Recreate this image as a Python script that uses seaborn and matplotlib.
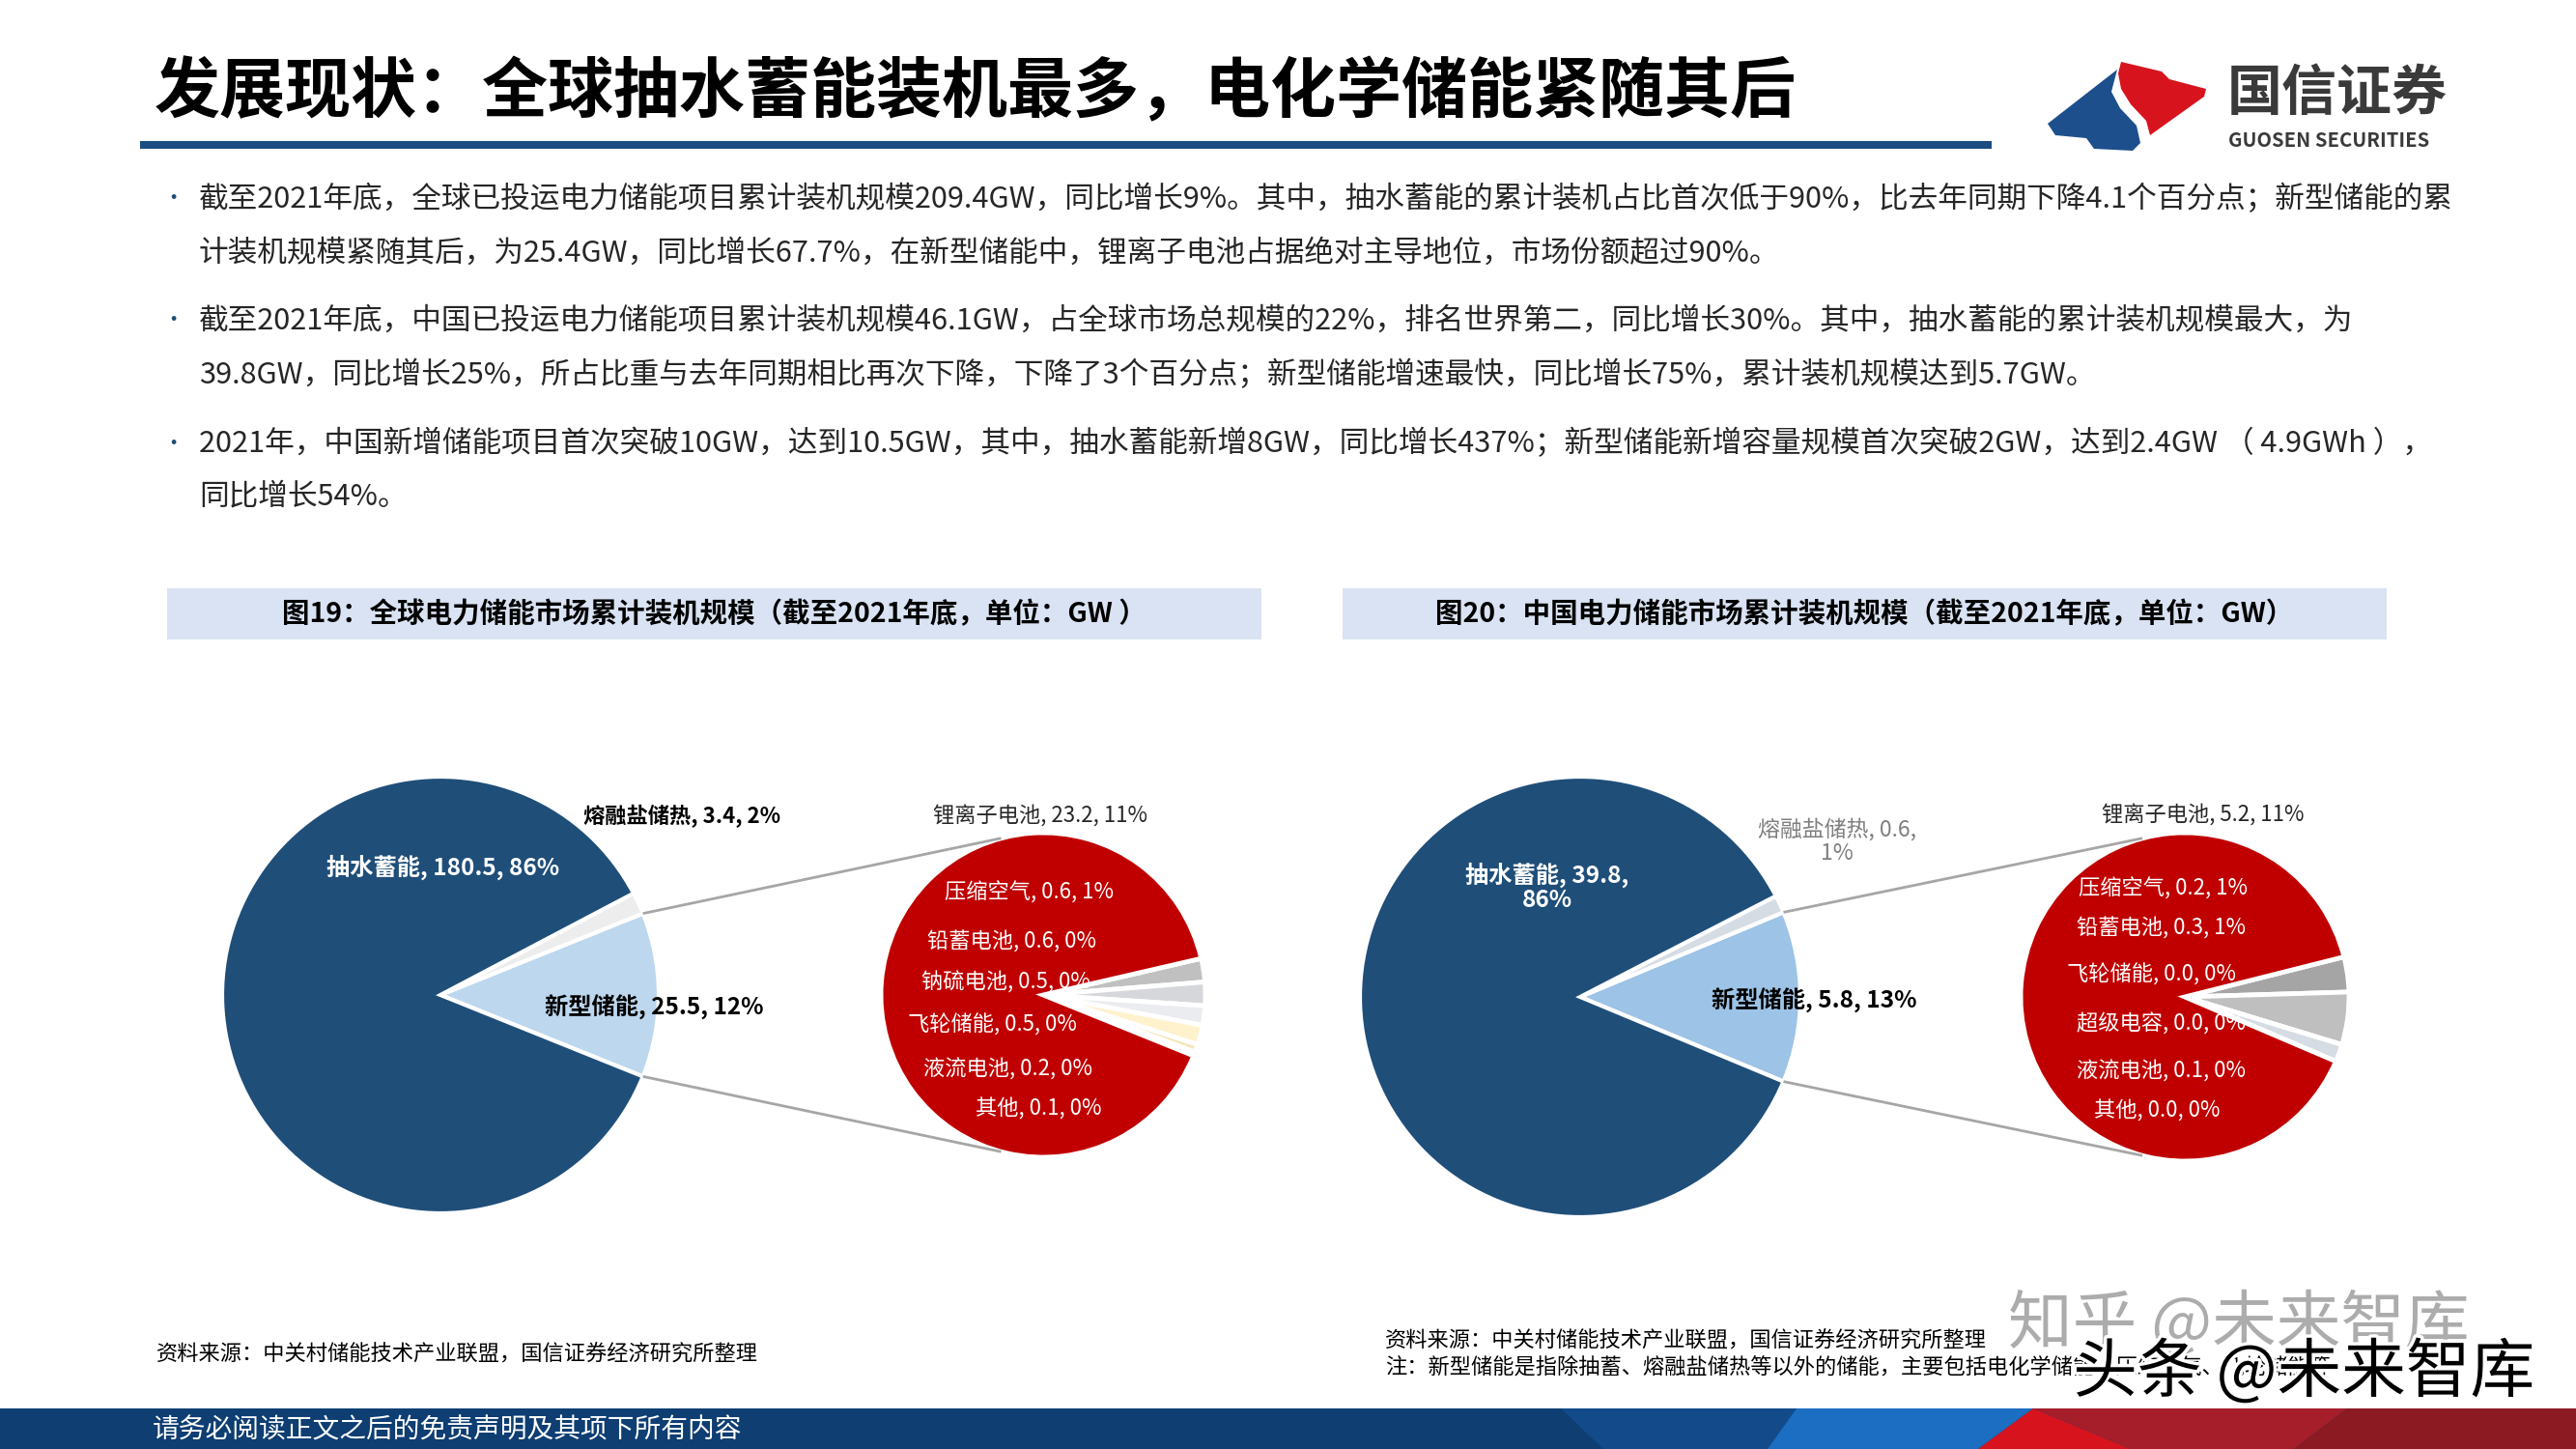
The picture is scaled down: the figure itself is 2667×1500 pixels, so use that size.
import numpy as np
import matplotlib
matplotlib.use("Agg")
import matplotlib.pyplot as plt
import matplotlib.patheffects as pe
from matplotlib.patches import Rectangle, Polygon
import seaborn as sns

# ─── Data ───
MAIN_NAMES = ["新型储能", "熔融盐储热", "抽水蓄能"]
GLOBAL_MAIN_GW = [25.5, 3.4, 180.5]
GLOBAL_MAIN_PCT = [12, 2, 86]
CHINA_MAIN_GW = [5.8, 0.6, 39.8]
CHINA_MAIN_PCT = [13, 1, 86]

GLOBAL_SUB_NAMES = ["压缩空气", "铅蓄电池", "钠硫电池", "飞轮储能", "液流电池", "其他", "锂离子电池"]
GLOBAL_SUB_GW = [0.6, 0.6, 0.5, 0.5, 0.2, 0.1, 23.2]
GLOBAL_SUB_PCT = [1, 0, 0, 0, 0, 0, 11]
CHINA_SUB_NAMES = ["压缩空气", "铅蓄电池", "飞轮储能", "超级电容", "液流电池", "其他", "锂离子电池"]
CHINA_SUB_GW = [0.2, 0.3, 0.0, 0.0, 0.1, 0.0, 5.2]
CHINA_SUB_PCT = [1, 1, 0, 0, 0, 0, 11]

TITLE = "发展现状：全球抽水蓄能装机最多，电化学储能紧随其后"
BULLETS = [
    ["截至2021年底，全球已投运电力储能项目累计装机规模209.4GW，同比增长9%。其中，抽水蓄能的累计装机占比首次低于90%，比去年同期下降4.1个百分点；新型储能的累",
     "计装机规模紧随其后，为25.4GW，同比增长67.7%，在新型储能中，锂离子电池占据绝对主导地位，市场份额超过90%。"],
    ["截至2021年底，中国已投运电力储能项目累计装机规模46.1GW，占全球市场总规模的22%，排名世界第二，同比增长30%。其中，抽水蓄能的累计装机规模最大，为",
     "39.8GW，同比增长25%，所占比重与去年同期相比再次下降，下降了3个百分点；新型储能增速最快，同比增长75%，累计装机规模达到5.7GW。"],
    ["2021年，中国新增储能项目首次突破10GW，达到10.5GW，其中，抽水蓄能新增8GW，同比增长437%；新型储能新增容量规模首次突破2GW，达到2.4GW （ 4.9GWh ），",
     "同比增长54%。"],
]
CAPTIONS = ["图19：全球电力储能市场累计装机规模（截至2021年底，单位：GW ）",
            "图20：中国电力储能市场累计装机规模（截至2021年底，单位：GW）"]
SOURCE = "资料来源：中关村储能技术产业联盟，国信证券经济研究所整理"
NOTE = "注：新型储能是指除抽蓄、熔融盐储热等以外的储能，主要包括电化学储能、压缩空气、飞轮储能等"
FOOTER = "请务必阅读正文之后的免责声明及其项下所有内容"

# ─── Style ───
W, H = 2667, 1500
sns.set_theme(style="white")
plt.rcParams["font.family"] = ["Noto Sans CJK SC", "DejaVu Sans"]

NAVY = "#1F4E79"
RED = "#C00000"
TXT = "#262626"


def Y(y):
    return H - y


fig = plt.figure(figsize=(W / 100, H / 100), dpi=100)
ax = fig.add_axes([0, 0, 1, 1])


def txt(x, y, s, **kw):
    kw.setdefault("color", TXT)
    kw.setdefault("va", "center")
    return ax.text(x, Y(y), s, **kw)


def draw_chart(main_gw, main_colors, sub_names, sub_gw, sub_pct, sub_colors,
               cx, cy, R, sx, r, labels_main, labels_sub):
    # main pie: 新型储能 slice centred on the right
    total = sum(main_gw)
    half = main_gw[0] / total * 360 / 2
    ax.pie(main_gw, colors=main_colors, center=(cx, Y(cy)), radius=R,
           startangle=-half, counterclock=True,
           wedgeprops=dict(edgecolor="white", linewidth=3))

    # secondary pie: small slices on the right, lithium fills the rest
    others = sum(sub_gw[:-1])
    span = others / sum(sub_gw) * 360
    ax.pie(sub_gw, colors=sub_colors, center=(sx, Y(cy)), radius=r,
           startangle=span / 2 - 4.5, counterclock=False,
           wedgeprops=dict(edgecolor="white", linewidth=3.5))

    # connector lines
    for sgn in (1, -1):
        a0 = np.deg2rad(sgn * half)
        a1 = np.deg2rad(sgn * 105)
        ax.plot([cx + R * np.cos(a0), sx + r * np.cos(a1)],
                [Y(cy) + R * np.sin(a0), Y(cy) + r * np.sin(a1)],
                color="#A6A6A6", lw=2, solid_capstyle="butt", zorder=1)

    for (x, y, s, color, weight, size) in labels_main:
        txt(x, y, s, color=color, fontsize=size, fontweight=weight, ha="center", linespacing=1.05)
    for i, (x, y) in enumerate(labels_sub):
        s = f"{sub_names[i]}, {sub_gw[i]:.1f}, {sub_pct[i]}%"
        txt(x, y, s, color="white", fontsize=16, ha="center")


# ─── Global chart ───
g_lbl = lambda i: f"{MAIN_NAMES[i]}, {GLOBAL_MAIN_GW[i]}, {GLOBAL_MAIN_PCT[i]}%"
li_g = f"{GLOBAL_SUB_NAMES[-1]}, {GLOBAL_SUB_GW[-1]}, {GLOBAL_SUB_PCT[-1]}%"
draw_chart(GLOBAL_MAIN_GW, ["#BDD7EE", "#EDEDED", NAVY],
           GLOBAL_SUB_NAMES, GLOBAL_SUB_GW, GLOBAL_SUB_PCT,
           ["#C0C0C0", "#D5D7DA", "#EBECEF", "#FFF2CC", "#F3E6BA", "#E4E4E4", RED],
           cx=456, cy=1030, R=226, sx=1080, r=168,
           labels_main=[(459, 898, g_lbl(2), "white", "bold", 17.5),
                        (706, 845, g_lbl(1), "black", "bold", 16),
                        (677, 1043, g_lbl(0), "black", "bold", 17.5),
                        (1077, 845, li_g, TXT, "normal", 16)],
           labels_sub=[(1066, 924), (1048, 975), (1041, 1017), (1027, 1061), (1044, 1107), (1075, 1148)])

# ─── China chart ───
c_main = [f"{MAIN_NAMES[i]}, {CHINA_MAIN_GW[i]}, {CHINA_MAIN_PCT[i]}%" for i in range(3)]
li_c = f"{CHINA_SUB_NAMES[-1]}, {CHINA_SUB_GW[-1]}, {CHINA_SUB_PCT[-1]}%"
draw_chart(CHINA_MAIN_GW, ["#9DC3E6", "#D6DCE4", NAVY],
           CHINA_SUB_NAMES, CHINA_SUB_GW, CHINA_SUB_PCT,
           ["#A5A5A5", "#BFBFBF", "#FFFFFF", "#EDEDED", "#D6DCE4", "#FFFFFF", RED],
           cx=1636, cy=1032, R=228, sx=2262, r=170,
           labels_main=[(1602, 918, f"{MAIN_NAMES[2]}, {CHINA_MAIN_GW[2]},\n{CHINA_MAIN_PCT[2]}%", "white", "bold", 17.5),
                        (1902, 871, f"{MAIN_NAMES[1]}, {CHINA_MAIN_GW[1]},\n{CHINA_MAIN_PCT[1]}%", "#7F7F7F", "normal", 16.5),
                        (1878, 1036, c_main[0], "black", "bold", 17.5),
                        (2281, 844, li_c, TXT, "normal", 16)],
           labels_sub=[(2240, 920), (2238, 961), (2228, 1009), (2238, 1060), (2238, 1109), (2233, 1150)])

# ─── Header ───
txt(160, 97, TITLE, fontsize=49, fontweight="heavy", color="black", ha="left")
ax.add_patch(Rectangle((145, Y(154)), 1917, 8, color="#1B4D80", lw=0))

# logo
ax.add_patch(Polygon([(x, Y(y)) for x, y in
                      [(2120, 128), (2192, 72), (2186, 95), (2195, 112), (2212, 130), (2216, 148),
                       (2208, 156), (2168, 154), (2160, 143), (2128, 140)]], color="#1D4F8C", lw=0))
ax.add_patch(Polygon([(x, Y(y)) for x, y in
                      [(2196, 64), (2238, 74), (2246, 82), (2284, 92), (2282, 100), (2226, 140),
                       (2222, 125), (2206, 108), (2196, 92), (2193, 76)]], color="#D7141E", lw=0))
txt(2306, 97, "国信证券", fontsize=41, color="#3A3A3A", ha="left", fontweight="bold")
txt(2307, 145, "GUOSEN SECURITIES", fontsize=14.5, color="#3A3A3A", ha="left", fontweight="bold")

# ─── Bullets ───
line_y = [(206, 262), (332, 388), (459, 514)]
for (y1, y2), lines in zip(line_y, BULLETS):
    txt(168, y1, "•", fontsize=16, color=NAVY, ha="left")
    txt(206, y1, lines[0], fontsize=22.1, ha="left")
    txt(206, y2, lines[1], fontsize=22.1, ha="left")

# ─── Captions ───
for (x0, x1), cap in zip([(173, 1306), (1390, 2471)], CAPTIONS):
    ax.add_patch(Rectangle((x0, Y(662)), x1 - x0, 53, color="#DAE3F3", lw=0))
    txt((x0 + x1) / 2, 636, cap, fontsize=20.5, fontweight="bold", color="black", ha="center")

# ─── Sources ───
txt(162, 1402, SOURCE, fontsize=16, ha="left", color="black")
txt(1434, 1388, SOURCE, fontsize=16, ha="left", color="black")
txt(1434, 1415, NOTE, fontsize=16, ha="left", color="black")

# ─── Footer band ───
ax.add_patch(Rectangle((0, 0), W, 42, color="#0E3E72", lw=0))
bands = [
    ("#134B8A", [(1616, 1458), (1860, 1458), (1830, 1500), (1660, 1500)]),
    ("#1B6EC2", [(1860, 1458), (2105, 1458), (2048, 1500), (1830, 1500)]),
    ("#D7141E", [(2105, 1458), (2048, 1500), (2206, 1500)]),
    ("#A61E29", [(2105, 1458), (2430, 1458), (2375, 1500), (2206, 1500)]),
    ("#8C1A22", [(2430, 1458), (2667, 1458), (2667, 1500), (2375, 1500)]),
]
for color, pts in bands:
    ax.add_patch(Polygon([(x, Y(y)) for x, y in pts], color=color, lw=0))
txt(158, 1480, FOOTER, fontsize=20, color="white", ha="left")

# ─── Watermarks ───
txt(2318, 1372, "知乎 @未来智库", fontsize=48, color="#9E9E9E", alpha=0.85, ha="center")
txt(2385, 1422, "头条 @未来智库", fontsize=48, color="black", ha="center",
    path_effects=[pe.withStroke(linewidth=5, foreground="white")])

ax.set_xlim(0, W)
ax.set_ylim(0, H)
ax.axis("off")
fig.savefig("out.png", dpi=100, facecolor="white")
